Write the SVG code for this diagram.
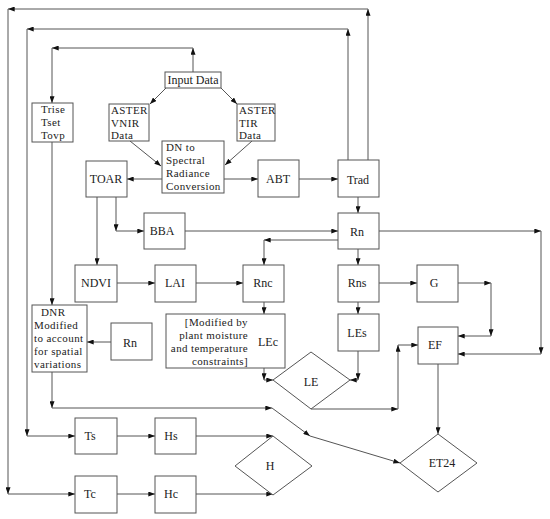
<svg xmlns="http://www.w3.org/2000/svg" width="550" height="519" viewBox="0 0 550 519">
<style>
.b{fill:#fff;stroke:#555;stroke-width:1}
.t{font-family:"Liberation Serif","Times New Roman",serif;font-size:12px;fill:#222}
.s{font-size:11px;letter-spacing:0.4px}
.m{text-anchor:middle}
.e{text-anchor:end}
#conn line{stroke:#555;stroke-width:1;fill:none;marker-end:url(#ah)}
</style>
<defs>
<marker id="ah" viewBox="0 0 8 6" refX="8" refY="3" markerWidth="7" markerHeight="5" markerUnits="userSpaceOnUse" orient="auto">
<path d="M0,0 L8,3 L0,6 z" fill="#111"/>
</marker>
</defs>
<rect width="550" height="519" fill="#fff"/>
<g id="conn">
<line x1="368" y1="160" x2="368" y2="9"/>
<line x1="368" y1="9" x2="8" y2="9"/>
<line x1="8" y1="9" x2="8" y2="494"/>
<line x1="8" y1="494" x2="75" y2="494"/>
<line x1="348" y1="160" x2="348" y2="29"/>
<line x1="348" y1="29" x2="27" y2="29"/>
<line x1="27" y1="29" x2="27" y2="436"/>
<line x1="27" y1="436" x2="75" y2="436"/>
<line x1="193" y1="72" x2="193" y2="48"/>
<line x1="193" y1="48" x2="52" y2="48"/>
<line x1="52" y1="48" x2="52" y2="103"/>
<line x1="166" y1="88" x2="150" y2="104"/>
<line x1="221" y1="88" x2="237" y2="104"/>
<line x1="130" y1="141" x2="161" y2="166"/>
<line x1="252" y1="141" x2="225" y2="165"/>
<line x1="162" y1="179" x2="127" y2="179"/>
<line x1="224" y1="179" x2="258" y2="179"/>
<line x1="299" y1="179" x2="338" y2="179"/>
<line x1="358" y1="197" x2="358" y2="213"/>
<line x1="116" y1="197" x2="116" y2="231"/>
<line x1="116" y1="231" x2="144" y2="231"/>
<line x1="97" y1="197" x2="97" y2="265"/>
<line x1="185" y1="231" x2="338" y2="231"/>
<line x1="117" y1="283" x2="155" y2="283"/>
<line x1="196" y1="283" x2="243" y2="283"/>
<line x1="338" y1="240" x2="264" y2="240"/>
<line x1="264" y1="240" x2="264" y2="265"/>
<line x1="358" y1="249" x2="358" y2="265"/>
<line x1="358" y1="302" x2="358" y2="314"/>
<line x1="379" y1="283" x2="417" y2="283"/>
<line x1="458" y1="283" x2="491" y2="283"/>
<line x1="491" y1="283" x2="491" y2="336"/>
<line x1="491" y1="336" x2="458" y2="336"/>
<line x1="379" y1="231" x2="541" y2="231"/>
<line x1="541" y1="231" x2="541" y2="354"/>
<line x1="541" y1="354" x2="458" y2="354"/>
<line x1="264" y1="302" x2="264" y2="314"/>
<line x1="264" y1="368" x2="264" y2="380"/>
<line x1="264" y1="380" x2="273" y2="380"/>
<line x1="358" y1="351" x2="358" y2="380"/>
<line x1="358" y1="380" x2="350" y2="380"/>
<line x1="311" y1="409" x2="398" y2="409"/>
<line x1="398" y1="409" x2="398" y2="345"/>
<line x1="398" y1="345" x2="418" y2="345"/>
<line x1="438" y1="364" x2="438" y2="434"/>
<line x1="52" y1="142" x2="52" y2="305"/>
<line x1="111" y1="342" x2="87" y2="342"/>
<line x1="52" y1="372" x2="52" y2="408"/>
<line x1="52" y1="408" x2="272" y2="408"/>
<line x1="272" y1="408" x2="310" y2="436"/>
<line x1="310" y1="436" x2="400" y2="463"/>
<line x1="117" y1="436" x2="155" y2="436"/>
<line x1="196" y1="436" x2="273" y2="436"/>
<line x1="117" y1="494" x2="155" y2="494"/>
<line x1="196" y1="494" x2="273" y2="494"/>
</g>
<g id="input"><rect class="b" x="165" y="72" width="56" height="16"/><text class="t m" x="193" y="84">Input Data</text></g>
<g id="vnir"><rect class="b" x="109" y="104" width="40" height="37"/><text class="t s" x="111" y="114">ASTER</text><text class="t s" x="111" y="127">VNIR</text><text class="t s" x="111" y="139">Data</text></g>
<g id="tir"><rect class="b" x="237" y="104" width="38" height="37"/><text class="t s" x="239" y="114">ASTER</text><text class="t s" x="239" y="127">TIR</text><text class="t s" x="239" y="139">Data</text></g>
<g id="trise"><rect class="b" x="32" y="103" width="41" height="39"/><text class="t s" x="41" y="113">Trise</text><text class="t s" x="41" y="126">Tset</text><text class="t s" x="41" y="139">Tovp</text></g>
<g id="dn"><rect class="b" x="162" y="141" width="62" height="52"/><text class="t s" x="166" y="151">DN to</text><text class="t s" x="166" y="164">Spectral</text><text class="t s" x="166" y="177">Radiance</text><text class="t s" x="166" y="190">Conversion</text></g>
<g id="toar"><rect class="b" x="86" y="161" width="41" height="36"/><text class="t m" x="106" y="183">TOAR</text></g>
<g id="abt"><rect class="b" x="258" y="160" width="41" height="37"/><text class="t m" x="278" y="183">ABT</text></g>
<g id="trad"><rect class="b" x="338" y="160" width="41" height="37"/><text class="t m" x="358" y="184">Trad</text></g>
<g id="bba"><rect class="b" x="144" y="213" width="41" height="36"/><text class="t m" x="162" y="235">BBA</text></g>
<g id="rn"><rect class="b" x="338" y="213" width="41" height="36"/><text class="t m" x="357" y="236">Rn</text></g>
<g id="ndvi"><rect class="b" x="75" y="265" width="42" height="37"/><text class="t m" x="96" y="287">NDVI</text></g>
<g id="lai"><rect class="b" x="155" y="265" width="41" height="37"/><text class="t m" x="175" y="287">LAI</text></g>
<g id="rnc"><rect class="b" x="243" y="265" width="41" height="37"/><text class="t m" x="263" y="287">Rnc</text></g>
<g id="rns"><rect class="b" x="338" y="265" width="41" height="37"/><text class="t m" x="357" y="287">Rns</text></g>
<g id="g"><rect class="b" x="417" y="265" width="41" height="37"/><text class="t m" x="434" y="287">G</text></g>
<g id="dnr"><rect class="b" x="32" y="305" width="55" height="67"/><text class="t s" x="41" y="316">DNR</text><text class="t s" x="34" y="329">Modified</text><text class="t s" x="34" y="342">to account</text><text class="t s" x="34" y="355">for spatial</text><text class="t s" x="34" y="368">variations</text></g>
<g id="rn2"><rect class="b" x="111" y="323" width="41" height="37"/><text class="t m" x="130" y="347">Rn</text></g>
<g id="lec"><rect class="b" x="166" y="314" width="119" height="54"/><text class="t s e" x="248" y="326">[Modified by</text><text class="t s e" x="248" y="339">plant moisture</text><text class="t s e" x="248" y="352">and temperature</text><text class="t s e" x="248" y="365">constraints]</text><text class="t m" x="268" y="346">LEc</text></g>
<g id="les"><rect class="b" x="338" y="314" width="41" height="37"/><text class="t m" x="357" y="337">LEs</text></g>
<g id="ef"><rect class="b" x="418" y="327" width="40" height="37"/><text class="t m" x="435" y="349">EF</text></g>
<g id="le"><polygon class="b" points="273,380 311,352 350,380 311,409"/><text class="t m" x="311" y="386">LE</text></g>
<g id="ts"><rect class="b" x="75" y="418" width="42" height="36"/><text class="t m" x="90" y="440">Ts</text></g>
<g id="hs"><rect class="b" x="155" y="418" width="41" height="36"/><text class="t m" x="171" y="440">Hs</text></g>
<g id="h"><polygon class="b" points="235,466 273,436 312,466 273,495"/><text class="t m" x="270" y="470">H</text></g>
<g id="et24"><polygon class="b" points="400,463 438,434 477,463 438,492"/><text class="t m" x="442" y="467">ET24</text></g>
<g id="tc"><rect class="b" x="75" y="476" width="42" height="37"/><text class="t m" x="90" y="498">Tc</text></g>
<g id="hc"><rect class="b" x="155" y="476" width="41" height="37"/><text class="t m" x="171" y="498">Hc</text></g>
</svg>
